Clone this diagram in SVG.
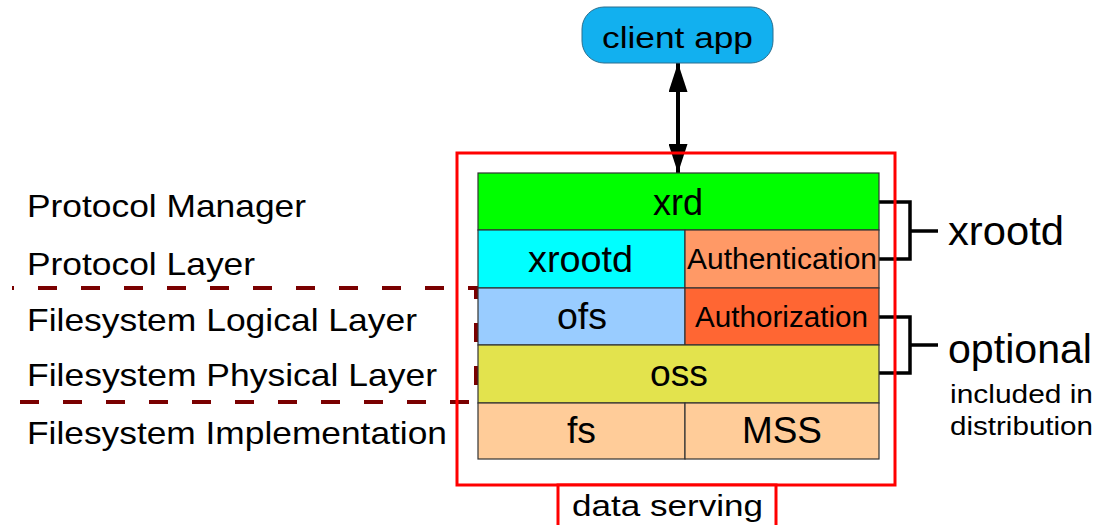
<svg xmlns="http://www.w3.org/2000/svg" width="1106" height="525" viewBox="0 0 1106 525">
<style>
text{font-family:"Liberation Sans",Arial,sans-serif;fill:#000}
.lbl{font-size:32px}
.big{font-size:36px}
.mid{font-size:29px}
.cell{stroke:#333;stroke-width:1.2}
.dash{stroke:#7a0000;stroke-width:4;stroke-dasharray:19 24;fill:none}
.brk{stroke:#000;stroke-width:3.5;fill:none}
</style>
<defs>
<marker id="ah" viewBox="0 0 29 19" refX="29" refY="9.5" markerWidth="29" markerHeight="19" markerUnits="userSpaceOnUse" orient="auto-start-reverse">
<path d="M0,0 L29,9.5 L0,19 z" fill="#000"/>
</marker>
</defs>
<rect width="1106" height="525" fill="#fff"/>
<g id="layer-labels">
<text class="lbl" x="27" y="217" textLength="279" lengthAdjust="spacingAndGlyphs">Protocol Manager</text>
<text class="lbl" x="27" y="275" textLength="228" lengthAdjust="spacingAndGlyphs">Protocol Layer</text>
<text class="lbl" x="27" y="331" textLength="390" lengthAdjust="spacingAndGlyphs">Filesystem Logical Layer</text>
<text class="lbl" x="27" y="386" textLength="410" lengthAdjust="spacingAndGlyphs">Filesystem Physical Layer</text>
<text class="lbl" x="27" y="444" textLength="420" lengthAdjust="spacingAndGlyphs">Filesystem Implementation</text>
</g>
<g id="separators">
<path class="dash" d="M12,288 H476 V402 H12" stroke-dashoffset="17"/>
</g>
<g id="connectors">
<line x1="678" y1="63" x2="678" y2="173" stroke="#000" stroke-width="4" marker-start="url(#ah)" marker-end="url(#ah)"/>
<path class="brk" d="M879,202 H910 V259 H879 M910,231 H938"/>
<path class="brk" d="M879,317 H910 V373 H879 M910,345 H938"/>
</g>
<g id="client-app">
<rect x="582" y="7" width="191" height="56" rx="22" fill="#12b0ef" stroke="#2a6f8f" stroke-width="1"/>
<text x="602" y="48" font-size="30" textLength="151" lengthAdjust="spacingAndGlyphs">client app</text>
</g>
<g id="xrd">
<rect class="cell" x="478" y="173" width="401" height="57" fill="#00ff00"/>
<text class="big" x="653" y="215" textLength="50" lengthAdjust="spacingAndGlyphs">xrd</text>
</g>
<g id="xrootd">
<rect class="cell" x="478" y="230" width="207" height="58" fill="#00ffff"/>
<text class="big" x="528" y="272" textLength="105" lengthAdjust="spacingAndGlyphs">xrootd</text>
</g>
<g id="authentication">
<rect class="cell" x="685" y="230" width="194" height="58" fill="#ff9966"/>
<text class="mid" x="687" y="269" textLength="190" lengthAdjust="spacingAndGlyphs">Authentication</text>
</g>
<g id="ofs">
<rect class="cell" x="478" y="288" width="207" height="57" fill="#99ccff"/>
<text class="big" x="557" y="329" textLength="50" lengthAdjust="spacingAndGlyphs">ofs</text>
</g>
<g id="authorization">
<rect class="cell" x="685" y="288" width="194" height="57" fill="#ff6633"/>
<text class="mid" x="695" y="327" textLength="173" lengthAdjust="spacingAndGlyphs">Authorization</text>
</g>
<g id="oss">
<rect class="cell" x="478" y="345" width="401" height="58" fill="#e3e34d"/>
<text class="big" x="650" y="386" textLength="58" lengthAdjust="spacingAndGlyphs">oss</text>
</g>
<g id="fs">
<rect class="cell" x="478" y="403" width="207" height="56" fill="#ffcc99"/>
<text class="big" x="567" y="443" textLength="29" lengthAdjust="spacingAndGlyphs">fs</text>
</g>
<g id="mss">
<rect class="cell" x="685" y="403" width="194" height="56" fill="#ffcc99"/>
<text class="big" x="742" y="443" textLength="80" lengthAdjust="spacingAndGlyphs">MSS</text>
</g>
<g id="data-serving">
<rect x="457" y="153" width="438" height="332" fill="none" stroke="#ff0000" stroke-width="3"/>
<rect x="558" y="485" width="218" height="42" fill="#fff" stroke="#ff0000" stroke-width="3"/>
<text x="572" y="516" font-size="30" textLength="191" lengthAdjust="spacingAndGlyphs">data serving</text>
</g>
<g id="bracket-labels">
<text x="948" y="245" font-size="41" textLength="116" lengthAdjust="spacingAndGlyphs">xrootd</text>
<text x="948" y="363" font-size="41" textLength="144" lengthAdjust="spacingAndGlyphs">optional</text>
<text x="950" y="403" font-size="26" textLength="143" lengthAdjust="spacingAndGlyphs">included in</text>
<text x="950" y="435" font-size="26" textLength="143" lengthAdjust="spacingAndGlyphs">distribution</text>
</g>
</svg>
